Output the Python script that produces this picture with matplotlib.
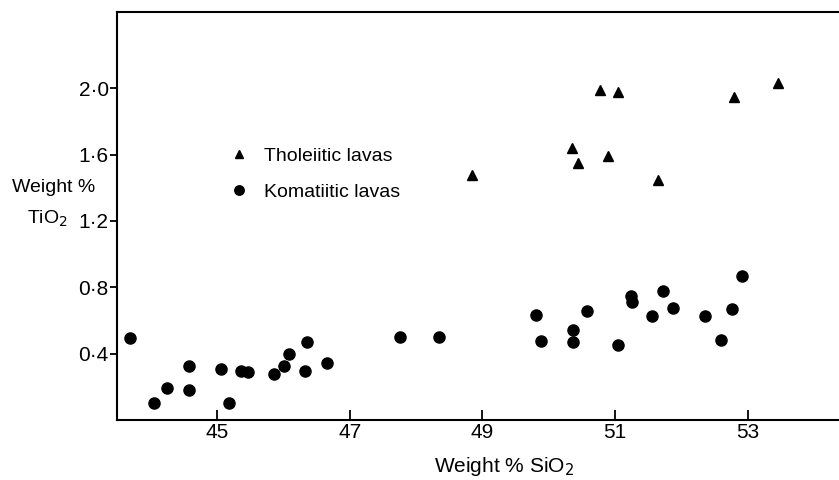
import matplotlib
matplotlib.use('Agg')
import matplotlib.pyplot as plt

plt.rcParams['font.family'] = ['Liberation Sans', 'DejaVu Sans']

# Tholeiitic lavas (triangles)
thol_sio2 = [48.84, 50.36, 50.45, 50.78, 51.05, 50.90, 51.65, 52.79, 53.46]
thol_tio2 = [1.48, 1.64, 1.55, 1.99, 1.98, 1.59, 1.445, 1.95, 2.03]

# Komatiitic lavas (circles)
kom_sio2 = [43.68, 44.05, 44.25, 44.58, 44.58, 45.06, 45.18, 45.36, 45.47,
            45.86, 46.01, 46.08, 46.33, 46.36, 46.65, 47.76, 48.35, 49.81,
            49.88, 50.37, 50.37, 50.58, 51.04, 51.25, 51.26, 51.56, 51.72,
            51.88, 52.36, 52.60, 52.77, 52.92]
kom_tio2 = [0.494, 0.10, 0.19, 0.325, 0.178, 0.31, 0.10, 0.293, 0.289,
            0.279, 0.323, 0.396, 0.297, 0.472, 0.343, 0.50, 0.498, 0.635,
            0.476, 0.541, 0.468, 0.66, 0.454, 0.748, 0.71, 0.625, 0.776,
            0.675, 0.629, 0.48, 0.667, 0.869]

x_ticks = [45, 47, 49, 51, 53]
x_ticklabels = ['45', '47', '49', '51', '53']
y_ticks = [0.4, 0.8, 1.2, 1.6, 2.0]
y_ticklabels = ['0\u00b74', '0\u00b78', '1\u00b72', '1\u00b76', '2\u00b70']

fig = plt.figure(figsize=(8.39, 4.8), dpi=100)
ax = fig.add_axes([0.1395, 0.125, 0.8605, 0.85])

ax.plot(thol_sio2, thol_tio2, linestyle='none', marker='^', color='black',
        markersize=7, label='Tholeiitic lavas')
ax.plot(kom_sio2, kom_tio2, linestyle='none', marker='o', color='black',
        markersize=8, label='Komatiitic lavas')

ax.set_xlim(43.49, 54.38)
ax.set_ylim(0.0, 2.46)

ax.spines['right'].set_visible(False)
for s in ['left', 'bottom', 'top']:
    ax.spines[s].set_linewidth(1.5)

ax.set_xticks(x_ticks)
ax.set_xticklabels(x_ticklabels)
ax.set_yticks(y_ticks)
ax.set_yticklabels(y_ticklabels)
ax.tick_params(axis='x', direction='in', length=7, width=1.3, pad=2, labelsize=15)
ax.tick_params(axis='y', direction='out', length=5, width=1.3, pad=1, labelsize=15)

fig.text(12 / 839, 1 - 187 / 480, 'Weight %', fontsize=14, va='center', ha='left')
fig.text(27 / 839, 1 - 219 / 480, 'TiO$_2$', fontsize=14, va='center', ha='left')
fig.text(504 / 839, 1 - 466 / 480, 'Weight % SiO$_2$', fontsize=15,
         va='center', ha='center')

ax.legend(loc='upper left', bbox_to_anchor=(212 / 839, 1 - 130 / 480),
          bbox_transform=fig.transFigure, frameon=False, fontsize=14,
          handletextpad=0.8, labelspacing=0.95, markerscale=0.85,
          handlelength=1.0)

fig.savefig('out.png', dpi=100)
